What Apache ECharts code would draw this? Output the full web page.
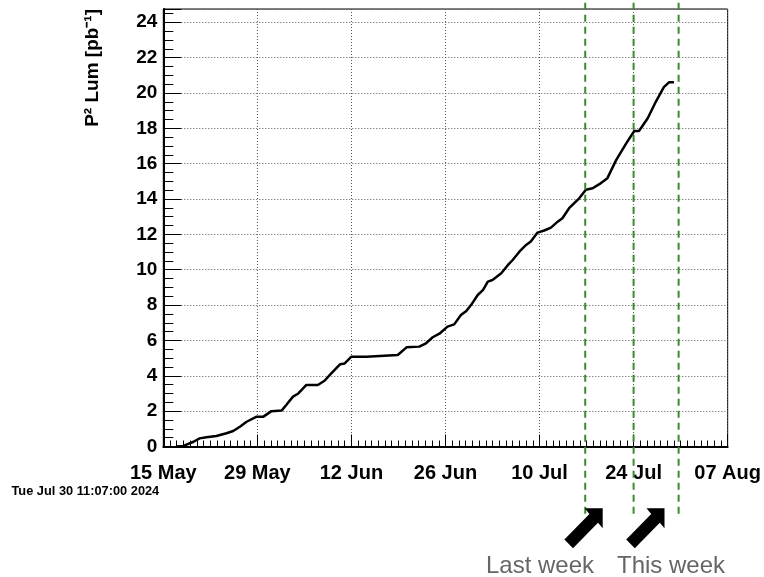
<!DOCTYPE html>
<html>
<head>
<meta charset="utf-8">
<script src="https://cdn.jsdelivr.net/npm/echarts@6/dist/echarts.min.js"></script>
<style>
  html, body { margin: 0; padding: 0; background: #fff; }
  #lumchart { width: 764px; height: 577px; }
</style>
</head>
<body>
<div id="lumchart"></div>
<script>
// days counted from 15 May 2024, cumulative lumi in pb^-1
const lumDays = [2.0, 3.0, 4.5, 5.4, 6.4, 7.9, 9.4, 10.4, 11.4, 12.4, 13.9, 14.9, 16.1, 17.6, 18.3, 19.3, 20.1, 21.3, 23.0, 24.0,
  25.0, 26.3, 27.0, 28.0, 30.2, 34.9, 36.2, 38.1, 39.1, 40.1, 41.1, 42.3, 43.3, 44.3, 45.1, 45.8, 46.8, 47.6, 48.3, 49.0,
  50.3, 51.3, 52.0, 53.0, 54.0, 54.7, 55.7, 56.7, 57.7, 58.7, 59.4, 60.4, 61.9, 62.9, 63.9, 64.9, 66.1, 67.4, 68.9, 70.1,
  70.8, 72.1, 73.3, 74.5, 75.3, 76.0]
const lumValues = [0, 0.03, 0.27, 0.46, 0.52, 0.59, 0.75, 0.88, 1.12, 1.40, 1.69, 1.69, 2.00, 2.03, 2.35, 2.82, 3.00, 3.48, 3.48, 3.72,
  4.14, 4.65, 4.70, 5.08, 5.08, 5.18, 5.61, 5.65, 5.84, 6.18, 6.38, 6.78, 6.91, 7.44, 7.67, 8.00, 8.57, 8.86, 9.33, 9.42,
  9.80, 10.27, 10.55, 11.02, 11.40, 11.60, 12.10, 12.22, 12.38, 12.72, 12.91, 13.48, 14.04, 14.52, 14.61, 14.84, 15.18, 16.20, 17.15, 17.85,
  17.85, 18.57, 19.50, 20.33, 20.61, 20.61]

const xTickLabels = ['15 May', '29 May', '12 Jun', '26 Jun', '10 Jul', '24 Jul', '07 Aug']
const weekLineDays = [62.8, 70.0, 76.7]
const weekLineSpan = [25.1, -3.9]
const arrowTipDays = [65.4, 74.6]
const arrowTipValue = -3.5
const weekLabels = ['Last week', 'This week']
const dateStamp = 'Tue Jul 30 11:07:00 2024'
const yTitle = 'P² Lum [pb⁻¹]'

const FONT = '"Liberation Sans", Arial, Helvetica, sans-serif'
const green = '#3b8a2e'

let myChart = echarts.init(document.getElementById('lumchart'))

let series = [
  {
    name: 'lumi',
    type: 'line',
    showSymbol: false,
    z: 5,
    lineStyle: { color: '#000', width: 2.5 },
    data: lumDays.map((d, i) => [d, lumValues[i]])
  }
]

weekLineDays.forEach(d => {
  series.push({
    type: 'line',
    showSymbol: false,
    silent: true,
    clip: false,
    z: 6,
    lineStyle: { color: green, width: 2, type: [7, 5] },
    data: weekLineSpan.map(v => [d, v])
  })
})

// big black arrows under the plot, tip points up-right
series.push({
  type: 'custom',
  clip: false,
  silent: true,
  z: 7,
  data: arrowTipDays.map(d => [d, arrowTipValue]),
  renderItem: (params, api) => {
    let tip = api.coord([api.value(0), api.value(1)])
    let shape = [[0, 0], [-18, 0], [-13.3, 5.7], [-38.3, 31.2], [-29.7, 39.8], [-4.7, 14.3], [0, 20]]
    return {
      type: 'polygon',
      shape: { points: shape.map(p => [tip[0] + p[0], tip[1] + p[1]]) },
      style: { fill: '#000' }
    }
  }
})

let options = {
  animation: false,
  backgroundColor: '#fff',
  grid: {
    left: 163.3,
    right: 35.4,
    top: 9,
    bottom: 130.5,
    show: true,
    borderColor: '#000',
    borderWidth: 1
  },
  xAxis: {
    type: 'value',
    min: 0,
    max: 84,
    interval: 14,
    axisLine: { lineStyle: { color: '#000', width: 2 } },
    axisTick: { inside: true, length: 12, lineStyle: { color: '#000', width: 1 } },
    minorTick: { show: true, splitNumber: 14, length: 6, lineStyle: { color: '#000', width: 1 } },
    axisLabel: {
      formatter: v => xTickLabels[Math.round(v / 14)],
      fontFamily: FONT,
      fontWeight: 'bold',
      fontSize: 20,
      color: '#000',
      margin: 17
    },
    splitLine: { show: true, lineStyle: { color: '#555', width: 1, type: [1, 2] } }
  },
  yAxis: {
    type: 'value',
    min: 0,
    max: 24.75,
    interval: 2,
    axisLine: { show: true, lineStyle: { color: '#000', width: 2 } },
    axisTick: { inside: true, length: 18, lineStyle: { color: '#000', width: 1 } },
    minorTick: { show: true, splitNumber: 4, length: 10, lineStyle: { color: '#000', width: 1 } },
    axisLabel: {
      showMaxLabel: false,
      fontFamily: FONT,
      fontWeight: 'bold',
      fontSize: 19,
      color: '#000',
      margin: 6
    },
    splitLine: { show: true, lineStyle: { color: '#555', width: 1, type: [1, 2] } }
  },
  graphic: [
    {
      type: 'text',
      x: 93,
      y: 9,
      rotation: Math.PI / 2,
      style: {
        text: yTitle,
        fontFamily: FONT,
        fontWeight: 'bold',
        fontSize: 19,
        fill: '#000',
        align: 'right',
        verticalAlign: 'middle'
      }
    },
    {
      type: 'text',
      x: 11.5,
      y: 491,
      style: {
        text: dateStamp,
        fontFamily: FONT,
        fontWeight: 'bold',
        fontSize: 12.8,
        fill: '#000',
        align: 'left',
        verticalAlign: 'middle'
      }
    },
    {
      type: 'text',
      x: 540,
      y: 566,
      style: { text: weekLabels[0], fontFamily: FONT, fontSize: 24, fill: '#666', align: 'center', verticalAlign: 'middle' }
    },
    {
      type: 'text',
      x: 671,
      y: 566,
      style: { text: weekLabels[1], fontFamily: FONT, fontSize: 24, fill: '#666', align: 'center', verticalAlign: 'middle' }
    }
  ],
  series: series
}

myChart.setOption(options)
</script>
</body>
</html>
